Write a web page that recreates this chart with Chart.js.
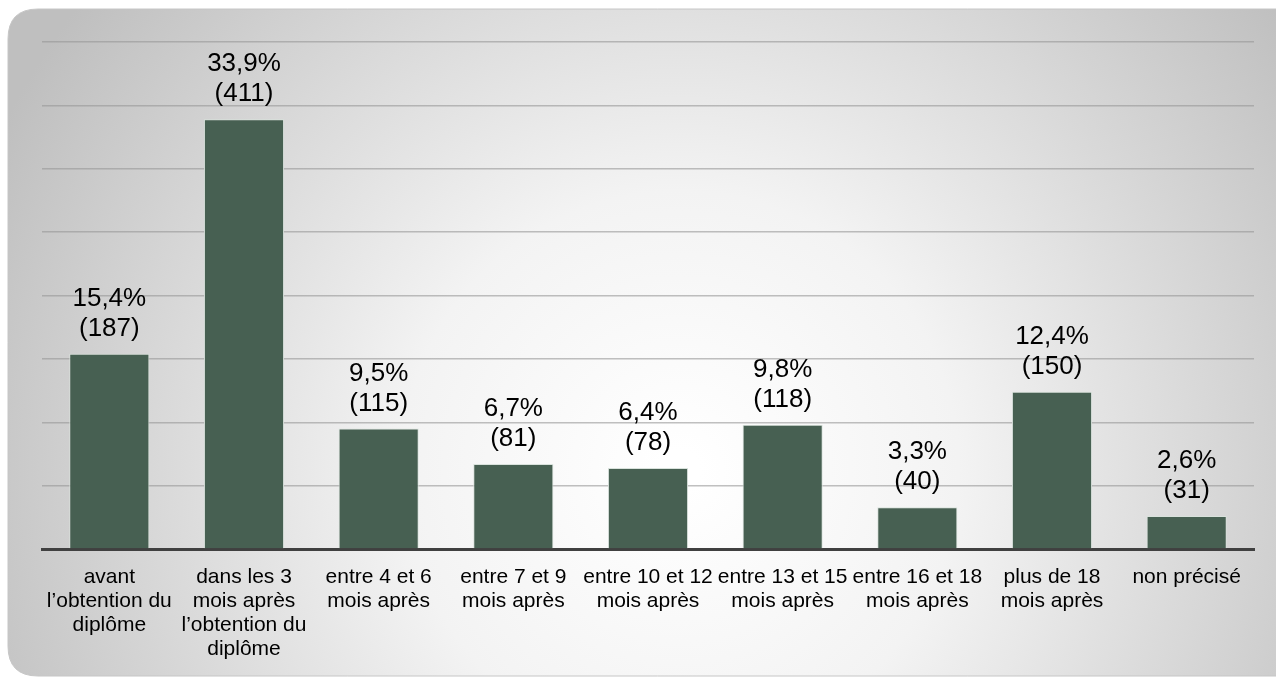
<!DOCTYPE html>
<html>
<head>
<meta charset="utf-8">
<script src="https://cdn.jsdelivr.net/npm/chart.js@4/dist/chart.umd.min.js"></script>
<style>
  html, body { margin: 0; padding: 0; background: #fff; }
  #chart { display: block; }
</style>
</head>
<body>
<canvas id="chart" width="1276" height="677"></canvas>
<script>
// categories (multi-line labels as in the original)
const categories = [
    ['avant', 'l\u2019obtention du', 'dipl\u00f4me'],
    ['dans les 3', 'mois apr\u00e8s', 'l\u2019obtention du', 'dipl\u00f4me'],
    ['entre 4 et 6', 'mois apr\u00e8s'],
    ['entre 7 et 9', 'mois apr\u00e8s'],
    ['entre 10 et 12', 'mois apr\u00e8s'],
    ['entre 13 et 15', 'mois apr\u00e8s'],
    ['entre 16 et 18', 'mois apr\u00e8s'],
    ['plus de 18', 'mois apr\u00e8s'],
    ['non pr\u00e9cis\u00e9']
];
const percents = [15.4, 33.9, 9.5, 6.7, 6.4, 9.8, 3.3, 12.4, 2.6];
const counts = [187, 411, 115, 81, 78, 118, 40, 150, 31];

// background panel with soft radial shading
const panelBg = {
    id: 'panelBg',
    beforeDraw(chart) {
        const c = chart.ctx;
        c.save();
        const x = 8, y = 9, w = 1300, h = 667, r = 30;
        c.beginPath();
        c.moveTo(x + r, y);
        c.lineTo(x + w - r, y);
        c.quadraticCurveTo(x + w, y, x + w, y + r);
        c.lineTo(x + w, y + h - r);
        c.quadraticCurveTo(x + w, y + h, x + w - r, y + h);
        c.lineTo(x + r, y + h);
        c.quadraticCurveTo(x, y + h, x, y + h - r);
        c.lineTo(x, y + r);
        c.quadraticCurveTo(x, y, x + r, y);
        c.closePath();
        const g = c.createRadialGradient(680, 470, 20, 680, 470, 760);
        g.addColorStop(0, '#ffffff');
        g.addColorStop(0.35, '#f3f3f3');
        g.addColorStop(1, '#bfbfbf');
        c.fillStyle = g;
        c.fill();
        c.strokeStyle = '#c6c6c6';
        c.lineWidth = 1;
        c.stroke();
        c.restore();
    }
};

// "xx,x%" / "(n)" labels above each bar
const barLabels = {
    id: 'barLabels',
    afterDatasetsDraw(chart) {
        const c = chart.ctx;
        const meta = chart.getDatasetMeta(0);
        c.save();
        c.font = '26px "Liberation Sans", Arial, sans-serif';
        c.fillStyle = '#000';
        c.textAlign = 'center';
        c.textBaseline = 'middle';
        meta.data.forEach((bar, i) => {
            const pct = percents[i].toFixed(1).replace('.', ',') + '%';
            c.fillText(pct, bar.x, bar.y - 55);
            c.fillText('(' + counts[i] + ')', bar.x, bar.y - 25);
        });
        c.restore();
    }
};

const ctx = document.getElementById('chart').getContext('2d');
new Chart(ctx, {
    type: 'bar',
    data: {
        labels: categories,
        datasets: [{
            data: percents,
            backgroundColor: '#476052',
            borderColor: '#d9e2dc',
            borderWidth: 1,
            categoryPercentage: 1,
            barPercentage: 0.595
        }]
    },
    options: {
        responsive: false,
        animation: false,
        layout: { padding: { left: 42, right: 22, top: 42, bottom: 0 } },
        plugins: { legend: { display: false }, tooltip: { enabled: false } },
        scales: {
            x: {
                afterFit(scale) { scale.height = 128; },
                grid: { display: false, drawTicks: false },
                border: { display: true, color: '#404040', width: 3 },
                ticks: {
                    maxRotation: 0,
                    autoSkip: false,
                    padding: 16,
                    color: '#000',
                    font: { family: '"Liberation Sans", Arial, sans-serif', size: 21, lineHeight: 1.15 }
                }
            },
            y: {
                min: 0,
                max: 40,
                afterFit(scale) { scale.width = 0; },
                ticks: { display: false, stepSize: 5 },
                border: { display: false },
                grid: { color: 'rgba(150,150,150,0.6)', lineWidth: 1.5, drawTicks: false }
            }
        }
    },
    plugins: [panelBg, barLabels]
});
</script>
</body>
</html>
